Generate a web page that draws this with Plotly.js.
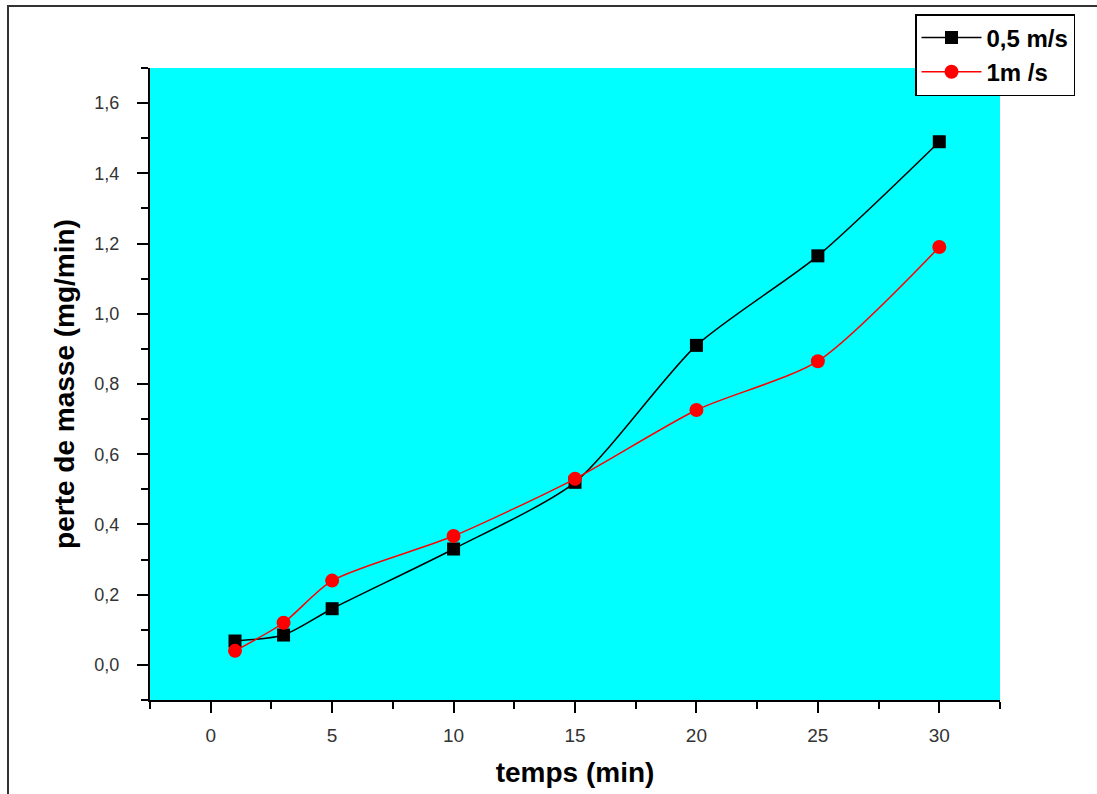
<!DOCTYPE html>
<html>
<head>
<meta charset="utf-8">
<script src="https://cdn.plot.ly/plotly-3.0.1.min.js"></script>
<style>
html,body{margin:0;padding:0;background:#fff;}
#frame{position:absolute;left:7px;top:5px;width:1100px;height:800px;border-left:2px solid #333;border-top:2px solid #333;box-sizing:border-box;pointer-events:none;z-index:10;}
#chart{width:1097px;height:794px;}
</style>
</head>
<body>
<div id="frame"></div>
<div id="chart"></div>
<script>
const temps = [1, 3, 5, 10, 15, 20, 25, 30];
const perte05 = [0.068, 0.085, 0.16, 0.33, 0.52, 0.91, 1.165, 1.49];
const perte1 = [0.04, 0.12, 0.24, 0.367, 0.53, 0.726, 0.865, 1.19];
const seriesNames = ['0,5 m/s', '1m /s'];
const yTickVals = [0, 0.2, 0.4, 0.6, 0.8, 1.0, 1.2, 1.4, 1.6];
const xTickVals = [0, 5, 10, 15, 20, 25, 30];

const traces = [
  {x: temps, y: perte05, name: seriesNames[0], type: 'scatter', mode: 'lines+markers',
   line: {color: '#000', width: 1.5, shape: 'spline', smoothing: 0.7},
   marker: {symbol: 'square', size: 13, color: '#000'}},
  {x: temps, y: perte1, name: seriesNames[1], type: 'scatter', mode: 'lines+markers',
   line: {color: '#ff0000', width: 1.5, shape: 'spline', smoothing: 0.7},
   marker: {symbol: 'circle', size: 14, color: '#ff0000'}}
];

const layout = {
  width: 1097, height: 794,
  margin: {l: 150, r: 97, t: 68, b: 94, autoexpand: false},
  paper_bgcolor: '#fff',
  plot_bgcolor: '#00ffff',
  separators: ', ',
  font: {family: 'Liberation Sans, Arial, sans-serif', color: '#000'},
  showlegend: true,
  legend: {x: 915/1097, xanchor: 'left', xref: 'container', y: 1 - 14/794, yanchor: 'top', yref: 'container',
    bgcolor: '#fff', bordercolor: '#000', borderwidth: 1.5,
    font: {size: 24, family: 'Liberation Sans, Arial, sans-serif', color: '#000', weight: 'bold'},
    tracegroupgap: 0, itemwidth: 60},
  xaxis: {
    range: [-2.5, 32.5], tickvals: xTickVals, ticks: 'outside', ticklen: 11, tickwidth: 2,
    tickcolor: '#000', showline: true, linecolor: '#000', linewidth: 2, showgrid: false, zeroline: false,
    tickfont: {size: 19, color: '#333', family: 'Liberation Sans Narrow, Liberation Sans, Arial, sans-serif'},
    ticklabelstandoff: 6,
    minor: {dtick: 2.5, tick0: 0, ticks: 'outside', ticklen: 7, tickwidth: 2, tickcolor: '#000', showgrid: false},
    title: {text: 'temps (min)', font: {size: 28, weight: 'bold', color: '#000'}, standoff: 18}
  },
  yaxis: {
    range: [-0.1, 1.7], tickvals: yTickVals, tickformat: '.1f', ticks: 'outside', ticklen: 11, tickwidth: 2,
    tickcolor: '#000', showline: true, linecolor: '#000', linewidth: 2, showgrid: false, zeroline: false,
    tickfont: {size: 18, color: '#333'},
    ticklabelstandoff: 14,
    minor: {dtick: 0.1, tick0: 0, ticks: 'outside', ticklen: 7, tickwidth: 2, tickcolor: '#000', showgrid: false},
    title: {text: 'perte de masse (mg/min)', font: {size: 28, weight: 'bold', color: '#000'}, standoff: 12}
  }
};

Plotly.newPlot('chart', traces, layout, {displayModeBar: false, staticPlot: true});
</script>
</body>
</html>
